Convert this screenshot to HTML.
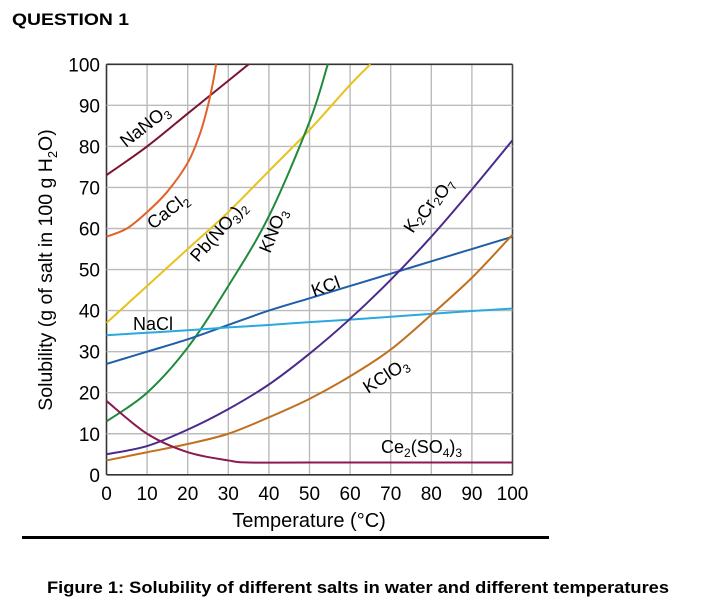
<!DOCTYPE html>
<html><head><meta charset="utf-8"><style>
body{margin:0;background:#fff;width:712px;height:606px;overflow:hidden;font-family:"Liberation Sans",Arial,sans-serif}
svg{position:absolute;left:0;top:0}
</style></head><body>
<svg id="c" width="712" height="606">
<text x="12" y="25" font-size="17" font-weight="bold" textLength="117" lengthAdjust="spacingAndGlyphs">QUESTION 1</text>
<g id="grid"></g><g id="curves"></g><g id="labels"></g>
<text transform="translate(52,270) rotate(-90)" text-anchor="middle" font-size="19.5">Solubility (g of salt in 100 g H<tspan font-size="13" dy="5">2</tspan><tspan dy="-5">O)</tspan></text>
<text x="309" y="527" text-anchor="middle" font-size="20">Temperature (°C)</text>
<rect x="22" y="536" width="527" height="3" fill="#000"/>
<text x="47" y="593" font-size="17" font-weight="bold" textLength="622" lengthAdjust="spacingAndGlyphs">Figure 1: Solubility of different salts in water and different temperatures</text>
</svg>
<script>
const xTicks=[0,10,20,30,40,50,60,70,80,90,100];
const yTicks=[0,10,20,30,40,50,60,70,80,90,100];
const temps=[0,10,20,30,40,50,60,70,80,90,100];
const nano3=[[0,73],[10,80],[20,88],[30,96],[35,100]];
const cacl2=[[0,58],[5,60],[10,64],[15,69],[20,76],[23,83],[25,90],[26.3,96],[27,100]];
const pbno3=[[0,37],[10,46],[20,55],[30,64],[40,74],[50,84],[60,95],[65,100]];
const kno3=[[0,13],[10,20],[20,31],[30,46],[40,63],[50,86],[54.5,100]];
const kcl=[27,30,33,36.5,40,43,46,49,52,55,58];
const nacl=[34,34.6,35.2,35.9,36.5,37.2,37.8,38.5,39.2,39.9,40.5];
const k2cr2o7=[5,7,11,16,22,29.5,38,47.5,58,69.5,81.5];
const kclo3=[3.5,5.5,7.5,10,14,18.5,24,30.5,39,48,58.5];
const ce2so43=[[0,18],[10,10],[20,5.5],[30,3.5],[35,3],[50,3],[100,3]];
const X=v=>106.5+v*4.06, Y=v=>474.8-v*4.105;
const NS="http://www.w3.org/2000/svg";
function mk(t,a,p){const e=document.createElementNS(NS,t);for(const k in a)e.setAttribute(k,a[k]);p.appendChild(e);return e;}
const g=document.getElementById('grid');
xTicks.forEach(t=>{
 const l=mk('line',{x1:X(t),x2:X(t),y1:Y(0),y2:Y(100),stroke:t==0?'#333':(t==100?'#444':'#bbb'),'stroke-width':t==0||t==100?1.6:1.4},g);
 
 
 const tx=mk('text',{x:X(t),y:500,'text-anchor':'middle','font-size':19},g);tx.textContent=t;
 
 
});
yTicks.forEach(t=>{
 const l=mk('line',{x1:X(0),x2:X(100),y1:Y(t),y2:Y(t),stroke:t==0||t==100?'#333':'#bbb','stroke-width':t==0||t==100?1.6:1.4},g);
 
 
 const tx=mk('text',{x:100,y:Y(t)+7,'text-anchor':'end','font-size':19},g);tx.textContent=t;
 
 
});
function path(pts){const p=pts.map(q=>[X(q[0]),Y(q[1])]);let d='M'+p[0];
 for(let i=0;i<p.length-1;i++){const p0=p[i-1]||p[i],p1=p[i],p2=p[i+1],p3=p[i+2]||p2;
  d+=' C'+(p1[0]+(p2[0]-p0[0])/6)+','+(p1[1]+(p2[1]-p0[1])/6)+' '+(p2[0]-(p3[0]-p1[0])/6)+','+(p2[1]-(p3[1]-p1[1])/6)+' '+p2;}
 return d;}
const cg=document.getElementById('curves');
function curve(pts,col,name){const e=mk('path',{d:path(pts),fill:'none',stroke:col,'stroke-width':2},cg);
 
 }
const z=a=>temps.map((t,i)=>[t,a[i]]);
curve(nano3,'#7a1530','nano3-curve');
curve(cacl2,'#e0622a','cacl2-curve');
curve(pbno3,'#e8c21c','pbno32-curve');
curve(kno3,'#1f8a3a','kno3-curve');
curve(z(kcl),'#1f5ea8','kcl-curve');
curve(z(nacl),'#2aa8e0','nacl-curve');
curve(z(k2cr2o7),'#4b2a8c','k2cr2o7-curve');
curve(z(kclo3),'#c0701e','kclo3-curve');
curve(ce2so43,'#8a1a50','ce2so43-curve');
const lg=document.getElementById('labels');
function lab(x,y,rot,html,name){const e=mk('text',{transform:`translate(${x},${y}) rotate(${rot})`,'font-size':18},lg);e.innerHTML=html;
 
 }
const s=t=>`<tspan font-size="12" dy="4">${t}</tspan><tspan dy="-4">`;
lab(126,148,-38,'NaNO'+s('3')+'</tspan>','nano3-label');
lab(153,230,-38,'CaCl'+s('2')+'</tspan>','cacl2-label');
lab(198,263,-48,'Pb(NO'+s('3')+')'+'</tspan><tspan font-size="12" dy="4">2</tspan>','pbno32-label');
lab(270,254,-68,'KNO'+s('3')+'</tspan>','kno3-label');
lab(314,297,-20,'KCl','kcl-label');
lab(133,330,0,'NaCl','nacl-label');
lab(413,234,-58,'K'+s('2')+'</tspan>Cr'+s('2')+'</tspan>O'+s('7')+'</tspan>','k2cr2o7-label');
lab(368,394,-33,'KClO'+s('3')+'</tspan>','kclo3-label');
lab(381,453,0,'Ce'+s('2')+'(SO'+'</tspan>'+s('4')+')'+'</tspan>'+s('3')+'</tspan>','ce2so43-label');
</script>
</body></html>
